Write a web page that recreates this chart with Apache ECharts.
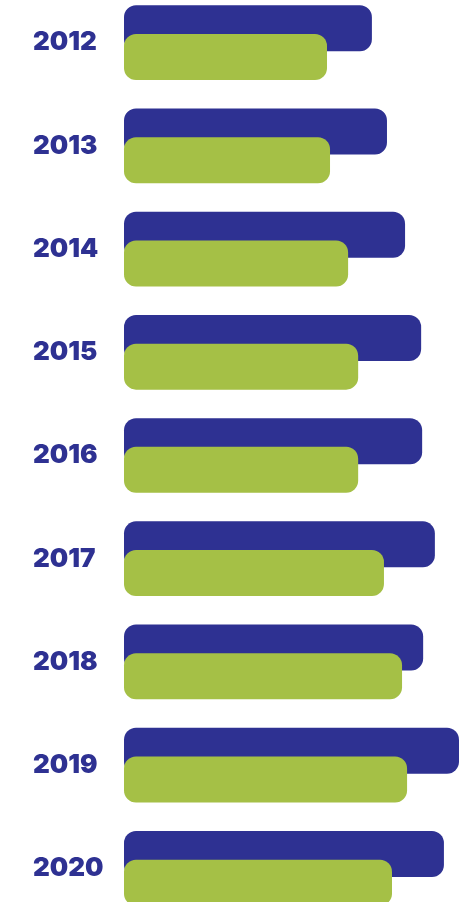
<!DOCTYPE html>
<html lang="en">
<head>
    <meta charset="utf-8">
    <script src="https://cdn.jsdelivr.net/npm/echarts@6/dist/echarts.min.js"></script>
    <style>
        html, body { margin: 0; padding: 0; background: #fff; overflow: hidden; }
        /* the reference is cropped: first and last rows run past the edges */
        #chart { width: 461px; height: 929px; position: relative; top: -9px; }
    </style>
</head>
<body>
<div id="chart"></div>
<script>
    // years down the side
    var years = ['2012', '2013', '2014', '2015', '2016', '2017', '2018', '2019', '2020'];
    // blue (back) and green (front) bars, 2019 blue = 100
    var blueValues = [74.0, 78.5, 83.9, 88.7, 89.0, 92.8, 89.3, 100, 95.5];
    var greenValues = [60.6, 61.5, 66.9, 69.9, 69.9, 77.6, 83.0, 84.5, 80.0];

    var blue = '#2e3192';
    var green = '#a5c046';

    var myChart = echarts.init(document.getElementById('chart'));
    var option = {
        animation: false,
        grid: {
            left: 124,
            right: 2,
            top: 0,
            bottom: 0,
            containLabel: false
        },
        xAxis: {
            type: 'value',
            min: 0,
            max: 100,
            show: false
        },
        yAxis: {
            type: 'category',
            data: years,
            inverse: true,
            axisLine: { show: false },
            axisTick: { show: false },
            splitLine: { show: false },
            axisLabel: {
                margin: 91,
                align: 'left',
                color: blue,
                fontSize: 26,
                fontWeight: 900,
                fontFamily: 'Inter',
                padding: [2, 0, 0, 0]
            }
        },
        series: [
            {
                name: 'blue',
                type: 'bar',
                data: blueValues,
                barWidth: 46,
                barGap: '-37.6%',
                itemStyle: { color: blue, borderRadius: 12 }
            },
            {
                name: 'green',
                type: 'bar',
                data: greenValues,
                barWidth: 46,
                itemStyle: { color: green, borderRadius: 12 }
            }
        ]
    };
    myChart.setOption(option);
</script>
</body>
</html>
